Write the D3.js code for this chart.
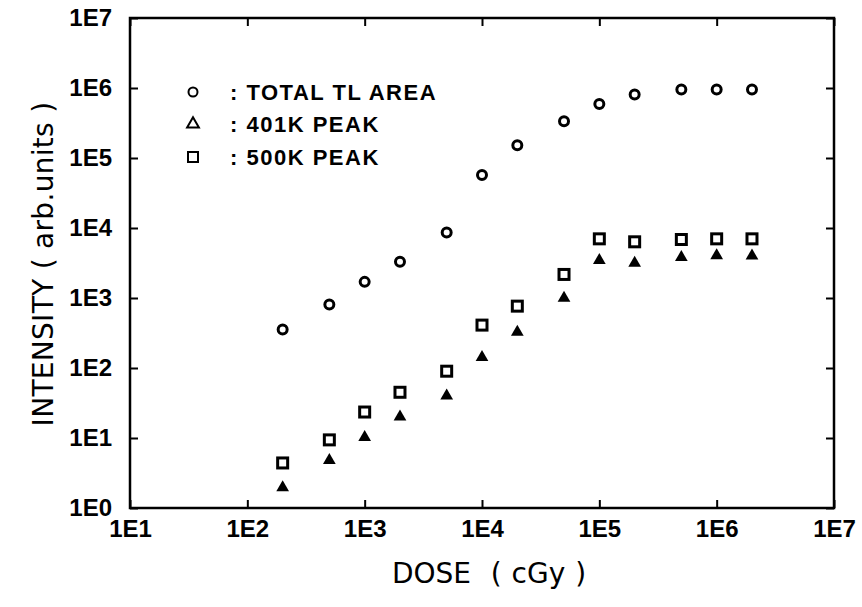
<!DOCTYPE html>
<html>
<head>
<meta charset="utf-8">
<script src="https://cdn.jsdelivr.net/npm/d3@7"></script>
<style>
  body { margin: 0; background: #fff; }
  svg { display: block; }
  .tick text { font-family: "Liberation Sans", Arial, sans-serif; font-weight: bold; font-size: 24px; fill: #000; }
  .label { font-family: "DejaVu Sans", sans-serif; font-size: 28px; fill: #000; }
  .legend text { font-family: "Liberation Sans", Arial, sans-serif; font-weight: bold; font-size: 22px; letter-spacing: 1.5px; fill: #000; }
</style>
</head>
<body>
<svg width="862" height="607"></svg>
<script>
// dose values (cGy) and intensities
var dose = [2e2, 5e2, 1e3, 2e3, 5e3, 1e4, 2e4, 5e4, 1e5, 2e5, 5e5, 1e6, 2e6];
var totalArea = [355, 810, 1700, 3300, 8600, 57000, 152000, 335000, 590000, 810000, 950000, 950000, 950000];
var peak401 = [1.95, 4.8, 10.2, 20, 40, 142, 325, 1000, 3450, 3150, 3800, 4050, 4000];
var peak500 = [4.4, 9.4, 23.5, 45, 90, 410, 765, 2170, 7000, 6350, 6850, 7000, 7000];
var legendLabels = [": TOTAL TL AREA", ": 401K PEAK", ": 500K PEAK"];
var decadeTicks = [1e1, 1e2, 1e3, 1e4, 1e5, 1e6, 1e7];
var yDecadeTicks = [1e0, 1e1, 1e2, 1e3, 1e4, 1e5, 1e6, 1e7];

var svg = d3.select("svg");
var plotLeft = 130, plotRight = 834, plotTop = 18, plotBottom = 508;

var x = d3.scaleLog().domain([1e1, 1e7]).range([plotLeft, plotRight]);
var y = d3.scaleLog().domain([1e0, 1e7]).range([plotBottom, plotTop]);

function expFmt(d) { return "1E" + Math.round(Math.log10(d)); }

// axes, ticks pointing into the plot
svg.append("g")
  .attr("transform", "translate(0," + plotBottom + ")")
  .call(d3.axisBottom(x).tickValues(decadeTicks).tickFormat(expFmt).tickSize(-8).tickPadding(12));
svg.append("g")
  .attr("transform", "translate(0," + plotTop + ")")
  .call(d3.axisTop(x).tickValues(decadeTicks).tickFormat("").tickSize(-8));
svg.append("g")
  .attr("transform", "translate(" + plotLeft + ",0)")
  .call(d3.axisLeft(y).tickValues(yDecadeTicks).tickFormat(expFmt).tickSize(-8).tickPadding(18));
svg.append("g")
  .attr("transform", "translate(" + plotRight + ",0)")
  .call(d3.axisRight(y).tickValues(yDecadeTicks).tickFormat("").tickSize(-8));

svg.selectAll(".domain").remove();
svg.selectAll(".tick line").attr("stroke", "#000").attr("stroke-width", 2);

svg.append("rect")
  .attr("x", plotLeft).attr("y", plotTop)
  .attr("width", plotRight - plotLeft).attr("height", plotBottom - plotTop)
  .attr("fill", "none").attr("stroke", "#000").attr("stroke-width", 2.5);

// axis titles
svg.append("text").attr("class", "label")
  .attr("x", 489).attr("y", 583)
  .attr("text-anchor", "middle")
  .attr("font-size", 30)
  .attr("word-spacing", "1")
  .attr("xml:space", "preserve")
  .text("DOSE  ( cGy )");
svg.append("text").attr("class", "label")
  .attr("transform", "translate(53,264) rotate(-90)")
  .attr("text-anchor", "middle")
  .attr("letter-spacing", "0.3")
  .attr("xml:space", "preserve")
  .text("INTENSITY ( arb.units )");

var triangle = d3.symbol().type(d3.symbolTriangle).size(70);

// series
var pts = svg.append("g");
pts.selectAll("circle.total")
  .data(dose.map(function(d, i) { return [d, totalArea[i]]; }))
  .enter().append("circle")
    .attr("class", "total")
    .attr("cx", function(d) { return x(d[0]); })
    .attr("cy", function(d) { return y(d[1]); })
    .attr("r", 4.5)
    .attr("fill", "none").attr("stroke", "#000").attr("stroke-width", 3);

pts.selectAll("rect.p500")
  .data(dose.map(function(d, i) { return [d, peak500[i]]; }))
  .enter().append("rect")
    .attr("class", "p500")
    .attr("x", function(d) { return x(d[0]) - 5; })
    .attr("y", function(d) { return y(d[1]) - 5; })
    .attr("width", 10).attr("height", 10)
    .attr("fill", "none").attr("stroke", "#000").attr("stroke-width", 3);

pts.selectAll("path.p401")
  .data(dose.map(function(d, i) { return [d, peak401[i]]; }))
  .enter().append("path")
    .attr("class", "p401")
    .attr("d", triangle)
    .attr("transform", function(d) { return "translate(" + x(d[0]) + "," + y(d[1]) + ")"; })
    .attr("fill", "#000");

// legend
var legend = svg.append("g").attr("class", "legend");
var legY = [92, 124, 157];
legend.append("circle").attr("cx", 193).attr("cy", legY[0]).attr("r", 4.5)
  .attr("fill", "none").attr("stroke", "#000").attr("stroke-width", 2);
legend.append("path").attr("d", d3.symbol().type(d3.symbolTriangle).size(60))
  .attr("transform", "translate(193," + legY[1] + ")")
  .attr("fill", "none").attr("stroke", "#000").attr("stroke-width", 2);
legend.append("rect").attr("x", 188).attr("y", legY[2] - 5).attr("width", 10).attr("height", 10)
  .attr("fill", "none").attr("stroke", "#000").attr("stroke-width", 2);
legend.selectAll("text")
  .data(legendLabels)
  .enter().append("text")
    .attr("x", 230)
    .attr("y", function(d, i) { return legY[i] + 8; })
    .text(function(d) { return d; });
</script>
</body>
</html>
